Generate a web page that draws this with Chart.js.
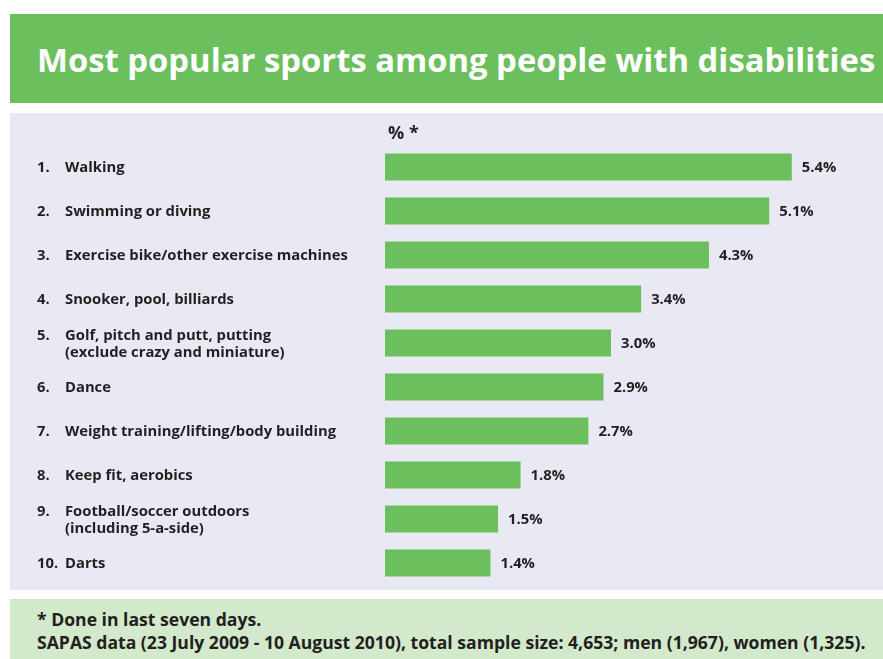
<!DOCTYPE html>
<html>
<head>
<meta charset="utf-8">
<script src="https://cdn.jsdelivr.net/npm/chart.js@4"></script>
<style>
  body { margin: 0; background: #fff; width: 883px; height: 659px; overflow: hidden; position: relative; font-family: "Open Sans", sans-serif; }
  #title { position: absolute; left: 10px; top: 14px; width: 873px; height: 89px; background: #6cbf5d; color: #fff; font-weight: 700; font-size: 32.8px; line-height: 92px; padding-left: 27px; box-sizing: border-box; white-space: nowrap; }
  #panel { position: absolute; left: 10px; top: 113px; width: 873px; height: 477px; background: #e9e9f3; }
  #foot { position: absolute; left: 10px; top: 599px; width: 873px; height: 60px; background: #d3e9cb; color: #231f20; font-weight: 700; font-size: 17.6px; line-height: 23px; padding: 9px 0 0 27px; box-sizing: border-box; white-space: nowrap; }
</style>
</head>
<body>
<div id="title">Most popular sports among people with disabilities</div>
<div id="panel"><canvas id="barChart" width="873" height="477"></canvas></div>
<div id="foot">* Done in last seven days.<br>SAPAS data (23 July 2009 - 10 August 2010), total sample size: 4,653; men (1,967), women (1,325).</div>
<script>
var ranks = ['1.', '2.', '3.', '4.', '5.', '6.', '7.', '8.', '9.', '10.'];
var sports = [
    ['Walking'],
    ['Swimming or diving'],
    ['Exercise bike/other exercise machines'],
    ['Snooker, pool, billiards'],
    ['Golf, pitch and putt, putting', '(exclude crazy and miniature)'],
    ['Dance'],
    ['Weight training/lifting/body building'],
    ['Keep fit, aerobics'],
    ['Football/soccer outdoors', '(including 5-a-side)'],
    ['Darts']
];
var percents = [5.4, 5.1, 4.3, 3.4, 3.0, 2.9, 2.7, 1.8, 1.5, 1.4];

var textColor = '#231f20';

// draws the rank numbers, sport names, % values and the "%*" heading
var labelPlugin = {
    id: 'labels',
    afterDatasetsDraw: function(chart) {
        var c = chart.ctx;
        var yScale = chart.scales.y;
        var meta = chart.getDatasetMeta(0);
        c.save();
        c.fillStyle = textColor;
        c.font = 'bold 14.8px "Open Sans"';
        c.textBaseline = 'middle';
        for (var i = 0; i < sports.length; i++) {
            var y = yScale.getPixelForValue(i) + 1;
            var lines = sports[i];
            var top = y - (lines.length - 1) * 8;
            c.textAlign = 'left';
            c.fillText(ranks[i], 27, top);
            for (var j = 0; j < lines.length; j++) {
                c.fillText(lines[j], 55, top + j * 17);
            }
            var bar = meta.data[i];
            c.fillText(percents[i].toFixed(1) + '%', bar.x + 10, y);
        }
        c.font = 'bold 18px "Open Sans"';
        c.fillText('% *', chart.chartArea.left + 3, 21);
        c.restore();
    }
};

var ctx = document.getElementById('barChart').getContext('2d');
var myChart = new Chart(ctx, {
    type: 'bar',
    data: {
        labels: sports,
        datasets: [{
            data: percents,
            backgroundColor: '#6cbf5d',
            borderWidth: 0,
            barPercentage: 0.61,
            categoryPercentage: 1
        }]
    },
    options: {
        indexAxis: 'y',
        responsive: false,
        animation: false,
        layout: { padding: { left: 375, top: 32, bottom: 5, right: 46 } },
        plugins: { legend: { display: false }, tooltip: { enabled: false } },
        scales: {
            x: { display: false, min: 0, max: 6 },
            y: { display: false }
        }
    },
    plugins: [labelPlugin]
});
</script>
</body>
</html>
